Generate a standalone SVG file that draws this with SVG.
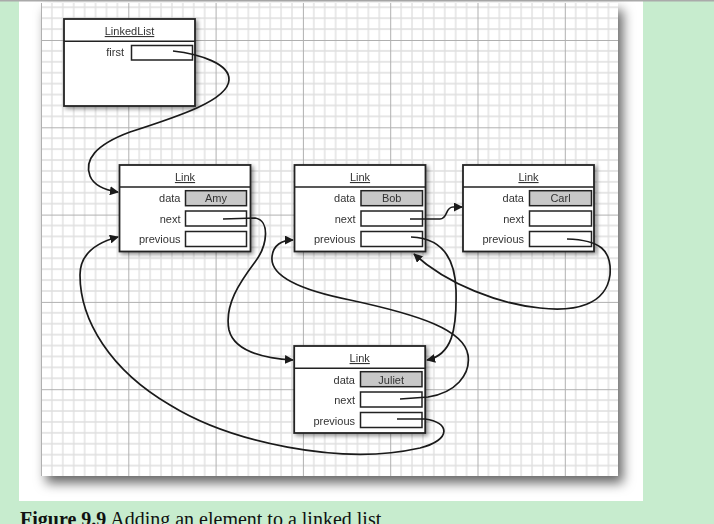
<svg xmlns="http://www.w3.org/2000/svg" width="714" height="524" viewBox="0 0 714 524">
<defs>
<pattern id="grid" patternUnits="userSpaceOnUse" x="41" y="40" width="87.3" height="87.3">
<g stroke="#dedede" stroke-width="1.3">
<path d="M10.91,0V87.3M21.83,0V87.3M32.74,0V87.3M43.65,0V87.3M54.56,0V87.3M65.48,0V87.3M76.39,0V87.3"/>
<path d="M0,10.91H87.3M0,21.83H87.3M0,32.74H87.3M0,43.65H87.3M0,54.56H87.3M0,65.48H87.3M0,76.39H87.3"/>
</g>
<path d="M0.5,0V87.3M0,0.5H87.3" stroke="#b0b0b0" stroke-width="1"/>
</pattern>
<filter id="pshadow" x="-10%" y="-10%" width="125%" height="125%">
<feDropShadow dx="5" dy="7" stdDeviation="6" flood-color="#000" flood-opacity="0.6"/>
</filter>
<filter id="bshadow" x="-10%" y="-10%" width="130%" height="130%">
<feDropShadow dx="2" dy="2" stdDeviation="2" flood-color="#000" flood-opacity="0.45"/>
</filter>
<marker id="arr" viewBox="0 0 10 10" refX="9" refY="5" markerWidth="9" markerHeight="9" markerUnits="userSpaceOnUse" orient="auto">
<path d="M0,0L10,5L0,10z" fill="#1a1a1a"/>
</marker>
<style>
.box{fill:#fff;stroke:#222;stroke-width:1.8}
.fld{fill:#fff;stroke:#222;stroke-width:1.5}
.dat{fill:#c8c8c8;stroke:#222;stroke-width:1.5}
.sep{stroke:#222;stroke-width:1.5}
.t{font-family:"Liberation Sans",Arial,sans-serif;font-size:11px;fill:#333}
.ttl{text-anchor:middle;text-decoration:underline}
.lbl{text-anchor:end}
.val{text-anchor:middle}
.c{fill:none;stroke:#1a1a1a;stroke-width:1.7;marker-end:url(#arr)}
.cap{font-family:"Liberation Serif","Times New Roman",serif;font-size:20px;fill:#111}
</style>
</defs>
<rect x="0" y="0" width="714" height="524" fill="#c7ecce"/>
<rect x="19" y="0" width="624" height="501" fill="#fff"/>
<line x1="0" y1="0.8" x2="714" y2="0.8" stroke="#aaa" stroke-width="1.5"/>
<rect x="41" y="3" width="577" height="473" fill="#fff" filter="url(#pshadow)"/>
<rect x="41" y="3" width="577" height="473" fill="url(#grid)"/>

<g id="linkedlist" filter="url(#bshadow)">
<rect class="box" x="64" y="19" width="131" height="87"/>
<line class="sep" x1="64" y1="41.3" x2="195" y2="41.3"/>
<text class="t ttl" x="129.5" y="35">LinkedList</text>
<text class="t lbl" x="124" y="56">first</text>
<rect class="fld" x="131.5" y="45.5" width="61" height="14.5"/>
</g>

<g id="link-amy" filter="url(#bshadow)">
<rect class="box" x="119.5" y="165" width="131" height="86.5"/>
<line class="sep" x1="119.5" y1="187" x2="250.5" y2="187"/>
<text class="t ttl" x="185" y="181">Link</text>
<text class="t lbl" x="180.5" y="202">data</text>
<text class="t lbl" x="180.5" y="222.5">next</text>
<text class="t lbl" x="180.5" y="243">previous</text>
<rect class="dat" x="185.5" y="190.7" width="61" height="15"/>
<rect class="fld" x="185.5" y="211" width="61" height="15"/>
<rect class="fld" x="185.5" y="231.5" width="61" height="15"/>
<text class="t val" x="216" y="202">Amy</text>
</g>

<g id="link-bob" filter="url(#bshadow)">
<rect class="box" x="294.5" y="165" width="131" height="86.5"/>
<line class="sep" x1="294.5" y1="187" x2="425.5" y2="187"/>
<text class="t ttl" x="360" y="181">Link</text>
<text class="t lbl" x="355.5" y="202">data</text>
<text class="t lbl" x="355.5" y="222.5">next</text>
<text class="t lbl" x="355.5" y="243">previous</text>
<rect class="dat" x="361" y="190.7" width="61.5" height="15"/>
<rect class="fld" x="361" y="211" width="61.5" height="15"/>
<rect class="fld" x="361" y="231.5" width="61.5" height="15"/>
<text class="t val" x="391.7" y="202">Bob</text>
</g>

<g id="link-carl" filter="url(#bshadow)">
<rect class="box" x="463" y="165" width="131" height="86.5"/>
<line class="sep" x1="463" y1="187" x2="594" y2="187"/>
<text class="t ttl" x="528.5" y="181">Link</text>
<text class="t lbl" x="524" y="202">data</text>
<text class="t lbl" x="524" y="222.5">next</text>
<text class="t lbl" x="524" y="243">previous</text>
<rect class="dat" x="529.5" y="190.7" width="62" height="15"/>
<rect class="fld" x="529.5" y="211" width="62" height="15"/>
<rect class="fld" x="529.5" y="231.5" width="62" height="15"/>
<text class="t val" x="560.5" y="202">Carl</text>
</g>

<g id="link-juliet" filter="url(#bshadow)">
<rect class="box" x="294.2" y="346" width="131" height="87"/>
<line class="sep" x1="294.2" y1="368.3" x2="425.2" y2="368.3"/>
<text class="t ttl" x="359.7" y="362">Link</text>
<text class="t lbl" x="355" y="383.5">data</text>
<text class="t lbl" x="355" y="404">next</text>
<text class="t lbl" x="355" y="424.5">previous</text>
<rect class="dat" x="360.5" y="371.7" width="61.5" height="15"/>
<rect class="fld" x="360.5" y="392" width="61.5" height="15"/>
<rect class="fld" x="360.5" y="412.5" width="61.5" height="15"/>
<text class="t val" x="391.2" y="383.5">Juliet</text>
</g>

<g id="connectors">
<path class="c" d="M173,51 C200,54 230,64 229,80 C228,100 180,116 130,132 C95,145 84,160 90,176 C94,186 105,190 118,192"/>
<path class="c" d="M223,219 L255,218 C270,220 268,245 255,262 C240,282 224,305 229,330 C234,350 260,358 293,360"/>
<path class="c" d="M410,219 L440,219 C448,219 445,207 453,207 L462,207"/>
<path class="c" d="M411,237 C440,238 455,255 456,290 C457,330 452,355 427,360"/>
<path class="c" d="M567,239 C600,240 612,250 610,275 C606,305 575,312 540,308 C500,304 448,285 414,254"/>
<path class="c" d="M400,399 L428,397 C455,393 471,375 468,355 C464,330 420,315 350,300 C300,290 270,276 272,257 C273,245 282,240 293,240"/>
<path class="c" d="M397,419 L425,419 C450,422 452,440 420,448 C340,466 230,442 170,405 C110,370 80,320 80,275 C80,255 95,243 118,237"/>
</g>

<text class="cap" x="20" y="526"><tspan font-weight="bold">Figure 9.9</tspan> Adding an element to a linked list</text>
</svg>
